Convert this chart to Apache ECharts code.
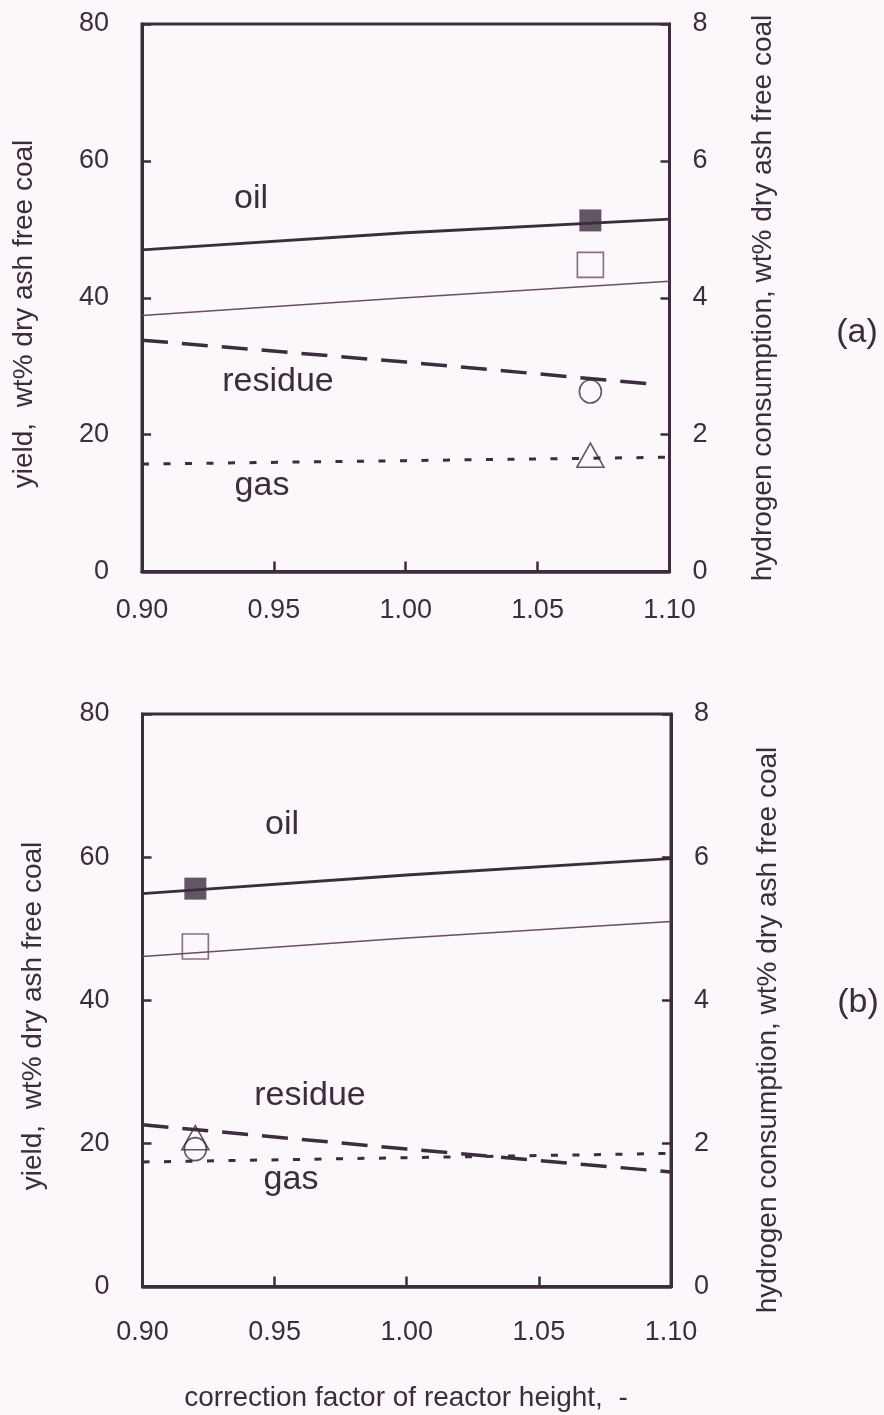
<!DOCTYPE html>
<html>
<head>
<meta charset="utf-8">
<script src="https://cdn.jsdelivr.net/npm/echarts@6/dist/echarts.min.js"></script>
<style>
  html, body { margin: 0; padding: 0; background: #fbf7fa; }
  #chart { width: 884px; height: 1415px; }
</style>
</head>
<body>
<div id="chart"></div>
<script>
// ---------- data ----------
// panel (a): calculated lines vs. correction factor
const aLineX        = [0.90, 1.00, 1.10];
const aOilCalc      = [47.0, 49.5, 51.5];   // yield, wt%
const aH2Calc       = [3.74, 4.00, 4.24];   // hydrogen consumption, wt%
const aResidueX     = [0.90, 1.00, 1.093];
const aResidueCalc  = [33.8, 30.6, 27.4];
const aGasCalc      = [15.7, 16.2, 16.7];
// panel (a): experimental points
const aExpX         = 1.07;
const aOilExp       = 51.3;
const aH2Exp        = 4.48;
const aResidueExp   = 26.3;
const aGasExp       = 17.0;

// panel (b)
const bLineX        = [0.90, 1.00, 1.10];
const bOilCalc      = [54.9, 57.5, 59.8];
const bH2Calc       = [4.61, 4.87, 5.10];
const bResidueCalc  = [22.6, 19.2, 16.0];
const bGasCalc      = [17.4, 18.0, 18.6];
const bExpX         = 0.92;
const bOilExp       = 55.6;
const bH2Exp        = 4.75;
const bResidueExp   = 19.2;
const bGasExp       = 20.8;

// axes
const xMin = 0.90, xMax = 1.10, xStep = 0.05;
const yieldMin = 0, yieldMax = 80, yieldStep = 20;
const h2Min = 0, h2Max = 8, h2Step = 2;

const leftTitle  = 'yield,  wt% dry ash free coal';
const rightTitle = 'hydrogen consumption, wt% dry ash free coal';
const xTitle     = 'correction factor of reactor height,  -';

// ---------- styling ----------
const INK = '#3d2c3e';
const THIN = '#6e4b66';
const FONT = '"Liberation Sans", Arial, sans-serif';

function pairs(xs, ys) { return xs.map((x, i) => [x, ys[i]]); }

function xAxisCfg(gridIndex, labelMargin) {
  return {
    type: 'value', gridIndex, min: xMin, max: xMax, interval: xStep,
    axisLine: { show: true, lineStyle: { color: INK, width: 3.5 } },
    axisTick: { show: true, inside: true, length: 10, lineStyle: { color: INK, width: 2.5 } },
    axisLabel: { color: INK, fontSize: 27, fontFamily: FONT, margin: labelMargin,
                 formatter: v => v.toFixed(2) },
    splitLine: { show: false }
  };
}
function yAxisCfg(gridIndex, pos, min, max, step, margin) {
  return {
    type: 'value', gridIndex, position: pos, min, max, interval: step,
    axisLine: { show: true, lineStyle: { color: INK, width: 3 } },
    axisTick: { show: true, inside: true, length: 9, lineStyle: { color: INK, width: 2.5 } },
    axisLabel: { color: INK, fontSize: 27, fontFamily: FONT, margin: margin },
    splitLine: { show: false }
  };
}

function panelSeries(xi, yl, yr, d) {
  const base = { xAxisIndex: xi, silent: true, animation: false };
  return [
    Object.assign({}, base, { type: 'line', yAxisIndex: yl, data: pairs(d.lineX, d.oil), showSymbol: false,
      lineStyle: { color: INK, width: 2.8 }, z: 3 }),
    Object.assign({}, base, { type: 'line', yAxisIndex: yr, data: pairs(d.lineX, d.h2), showSymbol: false,
      lineStyle: { color: THIN, width: 1.5 }, z: 3 }),
    Object.assign({}, base, { type: 'line', yAxisIndex: yl, data: pairs(d.resX, d.res), showSymbol: false,
      lineStyle: { color: INK, width: 3.5, type: [26, 14] }, z: 3 }),
    Object.assign({}, base, { type: 'line', yAxisIndex: yl, data: pairs(d.lineX, d.gas), showSymbol: false,
      lineStyle: { color: INK, width: 3, type: [7, 14.5] }, z: 3 }),
    Object.assign({}, base, { type: 'scatter', yAxisIndex: yl, data: [[d.expX, d.oilExp]],
      symbol: 'rect', symbolSize: 22, itemStyle: { color: INK }, z: 5 }),
    Object.assign({}, base, { type: 'scatter', yAxisIndex: yr, data: [[d.expX, d.h2Exp]],
      symbol: 'rect', symbolSize: [26, 25], itemStyle: { color: 'rgba(0,0,0,0)', borderColor: THIN, borderWidth: 1.6 }, z: 5 }),
    Object.assign({}, base, { type: 'scatter', yAxisIndex: yl, data: [[d.expX, d.resExp]],
      symbol: 'circle', symbolSize: [22, 23], itemStyle: { color: 'rgba(0,0,0,0)', borderColor: INK, borderWidth: 1.6 }, z: 5 }),
    Object.assign({}, base, { type: 'scatter', yAxisIndex: yl, data: [[d.expX, d.gasExp]],
      symbol: 'triangle', symbolSize: [27, 24], itemStyle: { color: 'rgba(0,0,0,0)', borderColor: INK, borderWidth: 1.6 }, z: 5 })
  ];
}

function txt(x, y, text, size, rot) {
  return {
    type: 'text', x, y, rotation: rot || 0, silent: true,
    style: { text, fill: INK, font: size + 'px ' + FONT, align: 'center', verticalAlign: 'middle' }
  };
}

const chart = echarts.init(document.getElementById('chart'), null, { renderer: 'canvas' });
const R = Math.PI / 2;

chart.setOption({
  backgroundColor: '#fbf7fa',
  animation: false,
  grid: [
    { left: 142, top: 24, width: 527.5, height: 547.5, show: true, borderColor: INK, borderWidth: 3, backgroundColor: 'transparent' },
    { left: 142.5, top: 714, width: 528.5, height: 572.5, show: true, borderColor: INK, borderWidth: 3, backgroundColor: 'transparent' }
  ],
  xAxis: [ xAxisCfg(0, 26), xAxisCfg(1, 33) ],
  yAxis: [
    yAxisCfg(0, 'left', yieldMin, yieldMax, yieldStep, 33),
    yAxisCfg(0, 'right', h2Min, h2Max, h2Step, 23),
    yAxisCfg(1, 'left', yieldMin, yieldMax, yieldStep, 33),
    yAxisCfg(1, 'right', h2Min, h2Max, h2Step, 23)
  ],
  series: [].concat(
    panelSeries(0, 0, 1, { lineX: aLineX, oil: aOilCalc, h2: aH2Calc, resX: aResidueX, res: aResidueCalc, gas: aGasCalc,
      expX: aExpX, oilExp: aOilExp, h2Exp: aH2Exp, resExp: aResidueExp, gasExp: aGasExp }),
    panelSeries(1, 2, 3, { lineX: bLineX, oil: bOilCalc, h2: bH2Calc, resX: bLineX, res: bResidueCalc, gas: bGasCalc,
      expX: bExpX, oilExp: bOilExp, h2Exp: bH2Exp, resExp: bResidueExp, gasExp: bGasExp })
  ),
  graphic: [
    // panel (a) annotations
    txt(251, 199, 'oil', 34),
    txt(278, 382, 'residue', 34),
    txt(262, 486, 'gas', 34),
    txt(857, 333, '(a)', 34),
    // panel (b) annotations
    txt(282, 825, 'oil', 34),
    txt(310, 1096, 'residue', 34),
    txt(291, 1180, 'gas', 34),
    txt(858, 1003, '(b)', 34),
    // axis titles
    txt(24, 314, leftTitle, 28, R),
    txt(763, 298, rightTitle, 28, R),
    txt(33, 1016, leftTitle, 28, R),
    txt(768, 1030, rightTitle, 28, R),
    txt(406, 1398, xTitle, 28)
  ]
});
</script>
</body>
</html>
